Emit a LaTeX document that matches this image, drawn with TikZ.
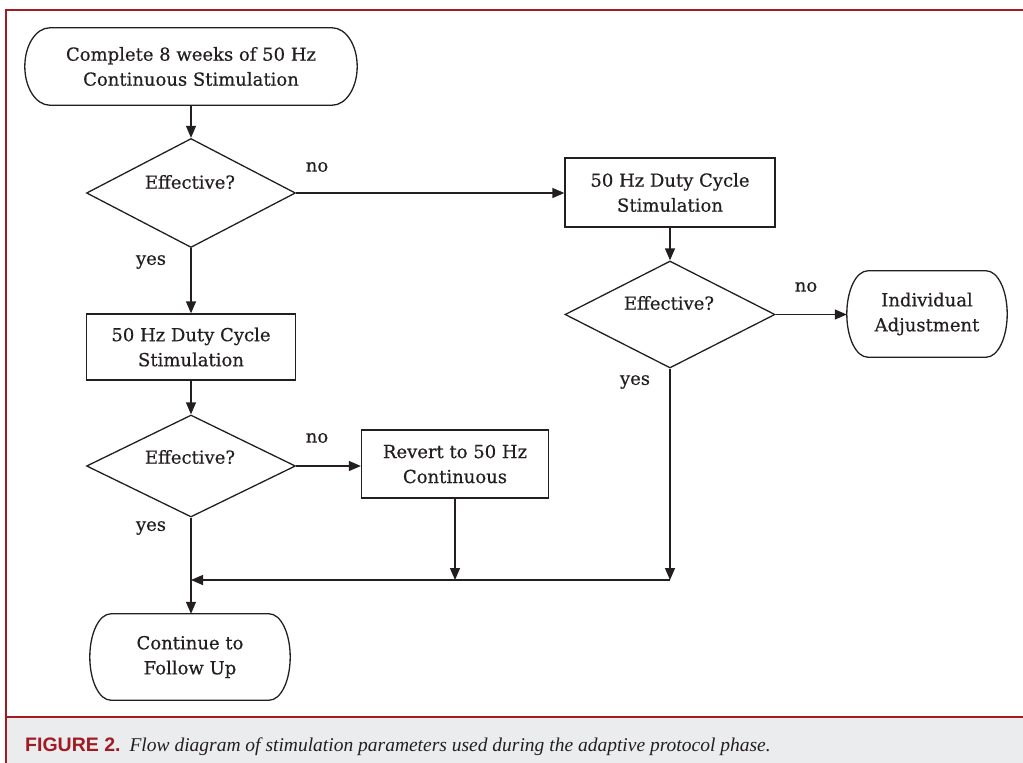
\documentclass[tikz,border=0pt]{standalone}
\usepackage{fontspec}
\setmainfont{DejaVu Serif}
\newfontfamily\nodefont{DejaVu Serif}[FakeBold=0.5]
\newfontfamily\capsans{Liberation Sans}
\newfontfamily\capserif{Liberation Serif}
\usetikzlibrary{shapes.geometric,arrows.meta,calc}
\definecolor{frame}{HTML}{A01C22}
\definecolor{capbg}{HTML}{EBECEE}
\definecolor{ink}{HTML}{231F20}
\newcommand\stadium[2]{%
  \draw[ln] let \p1=(#1.north), \p2=(#1.south), \n1={(\y1-\y2)/2} in
    ([xshift=#2]#1.north west) -- ([xshift=-#2]#1.north east)
    arc[start angle=90, end angle=-90, x radius=#2, y radius=\n1]
    -- ([xshift=#2]#1.south west)
    arc[start angle=270, end angle=90, x radius=#2, y radius=\n1] -- cycle;}
\begin{document}
\begin{tikzpicture}[x=1pt,y=-1pt,
  every node/.style={text=ink},
  lbl/.style={font=\nodefont\fontsize{18}{25}\selectfont, align=center, inner sep=0pt},
  term/.style={lbl, rectangle},
  proc/.style={lbl, draw=ink, line width=1.3pt, rectangle},
  dec/.style={draw=ink, line width=1.3pt, diamond, inner sep=0pt, minimum width=209pt, minimum height=109pt},
  arr/.style={draw=ink, line width=1.3pt, -{Triangle[length=12pt,width=10pt]}},
  ln/.style={draw=ink, line width=1.3pt}]
\useasboundingbox (0,0) rectangle (1023,763);
% frame and caption
\fill[capbg] (7,717) rectangle (1023,763);
\draw[frame, line width=2pt] (6,763) -- (6,9.5) -- (1023,9.5);
\draw[frame, line width=2pt] (6,716.5) -- (1023,716.5);
\node[anchor=base west, inner sep=0pt] (cap) at (25,751)
  {{\capsans\bfseries\fontsize{19.5}{22}\selectfont\color{frame}FIGURE 2.}\hspace{9pt}{\capserif\itshape\fontsize{19.5}{22}\selectfont Flow diagram of stimulation parameters used during the adaptive protocol phase.}};
% shapes
\node[term, minimum width=332pt, minimum height=77pt] (start) at (191,66.5) {Complete 8 weeks of 50 Hz\\Continuous Stimulation};
\stadium{start}{25pt}
\node[dec] (d1) at (191,193) {};
\node[lbl] (d1t) at (190,182) {Effective?};
\node[proc, minimum width=210pt, minimum height=69pt] (b2) at (670,192.5) {50 Hz Duty Cycle\\Stimulation};
\node[dec, minimum width=210pt, minimum height=107pt] (d3) at (670,314.5) {};
\node[lbl] (d3t) at (669,303) {Effective?};
\node[term, minimum width=160pt, minimum height=86pt] (ia) at (927,314) {Individual\\Adjustment};
\stadium{ia}{21pt}
\node[proc, minimum width=209pt, minimum height=66pt] (b1) at (191,347) {50 Hz Duty Cycle\\Stimulation};
\node[dec, minimum width=209pt, minimum height=102pt] (d2) at (191,466) {};
\node[lbl] (d2t) at (190,457) {Effective?};
\node[proc, minimum width=187pt, minimum height=68pt] (rv) at (455,464) {Revert to 50 Hz\\Continuous};
\node[term, minimum width=200pt, minimum height=86pt] (end) at (190,657) {Continue to\\Follow Up};
\stadium{end}{21pt}
% labels
\node[lbl] (n1) at (317,167) {no};
\node[lbl] (y1) at (151,262) {yes};
\node[lbl] (n3) at (806,287) {no};
\node[lbl] (y3) at (635,382) {yes};
\node[lbl] (n2) at (317,438) {no};
\node[lbl] (y2) at (151,528) {yes};
\coordinate (j1) at (191,580);
\coordinate (j3) at (670,580);
% connectors
\draw[arr] (start.south) -- (d1.north);
\draw[arr] (d1.east) -- (d1.east -| b2.west);
\draw[arr] (b2.south) -- (d3.north);
\draw[arr] (d3.east) -- (d3.east -| ia.west);
\draw[arr] (d1.south) -- (b1.north);
\draw[arr] (b1.south) -- (d2.north);
\draw[arr] (d2.east) -- (d2.east -| rv.west);
\draw[arr] (d3.south) -- (j3);
\draw[arr] (j3) -- (j1);
\draw[arr] (rv.south) -- (rv.south |- j1);
\draw[arr] (d2.south) -- (d2.south |- end.north);
\end{tikzpicture}
\end{document}
